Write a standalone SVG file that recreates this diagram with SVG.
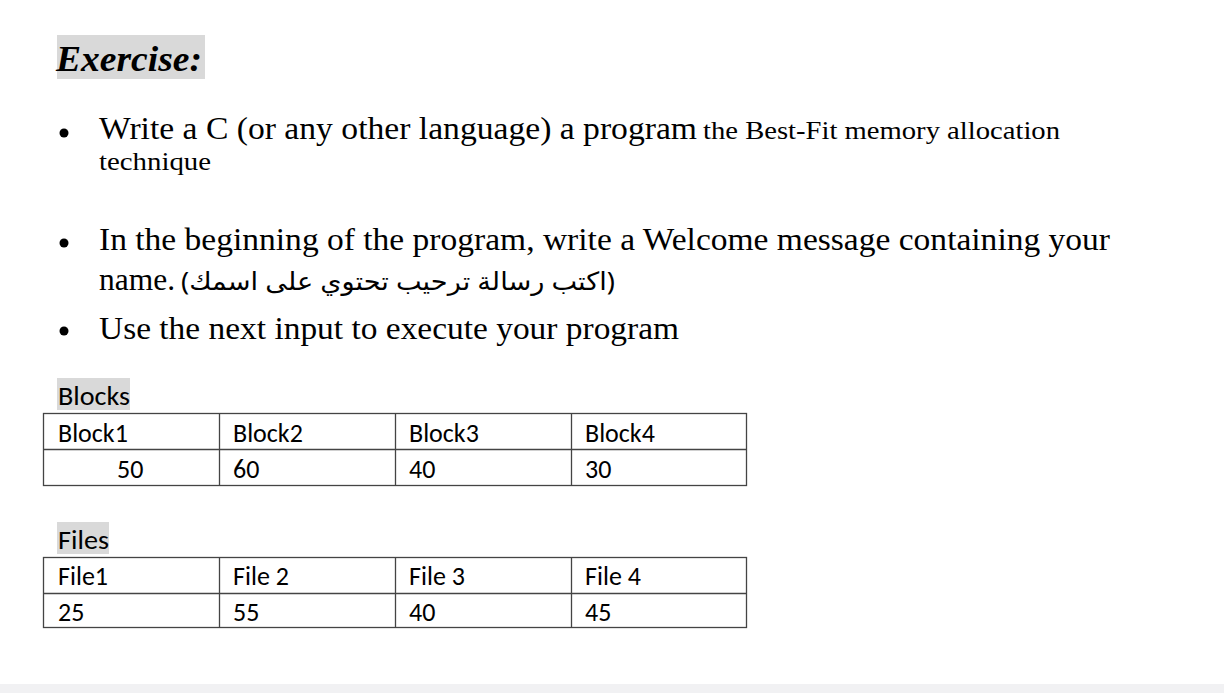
<svg xmlns="http://www.w3.org/2000/svg" width="1224" height="693" viewBox="0 0 1224 693">
<style>
.s{font-family:"Liberation Serif",serif;fill:#000}
.c{font-family:Carlito,"Liberation Sans",sans-serif;font-size:26px;fill:#000}
.hl{fill:#d9d9d9}
.t{fill:none;stroke:#444;stroke-width:1.3}
</style>
<rect width="1224" height="693" fill="#fff"/>
<rect x="0" y="684" width="1224" height="9" fill="#f1f1f3"/>
<rect class="hl" x="57" y="35" width="148" height="44"/>
<text class="s" x="56" y="71" font-size="36" font-weight="bold" font-style="italic" textLength="146" lengthAdjust="spacingAndGlyphs">Exercise:</text>
<g fill="#000"><circle cx="64" cy="133" r="4.5"/><circle cx="64" cy="243" r="4.5"/><circle cx="64" cy="331" r="4.5"/></g>
<text class="s" x="99" y="139" font-size="32" textLength="598" lengthAdjust="spacingAndGlyphs">Write a C (or any other language) a program</text>
<text class="s" x="703" y="139" font-size="26" textLength="357" lengthAdjust="spacingAndGlyphs">the Best-Fit memory allocation</text>
<text class="s" x="99" y="170" font-size="26" textLength="112" lengthAdjust="spacingAndGlyphs">technique</text>
<text class="s" x="99" y="250" font-size="32" textLength="1011" lengthAdjust="spacingAndGlyphs">In the beginning of the program, write a Welcome message containing your</text>
<text class="s" x="99" y="290" font-size="32" textLength="76" lengthAdjust="spacingAndGlyphs">name.</text>
<text x="181" y="290" font-family="'Noto Sans','DejaVu Sans',sans-serif" font-size="25" textLength="434" lengthAdjust="spacingAndGlyphs">(اكتب رسالة ترحيب تحتوي على اسمك)</text>
<text class="s" x="99" y="339" font-size="32" textLength="580" lengthAdjust="spacingAndGlyphs">Use the next input to execute your program</text>
<rect class="hl" x="57" y="378" width="73" height="32"/>
<text class="c" x="58" y="405" textLength="72" lengthAdjust="spacingAndGlyphs">Blocks</text>
<g id="blocks">
<rect class="t" x="43.5" y="413.5" width="703" height="72"/>
<path class="t" d="M43 449.5H747M219.5 413V486M395.5 413V486M571.5 413V486"/>
<text class="c" x="58" y="442">Block1</text><text class="c" x="233" y="442">Block2</text><text class="c" x="409" y="442">Block3</text><text class="c" x="585" y="442">Block4</text>
<text class="c" x="117" y="478">50</text><text class="c" x="233" y="478">60</text><text class="c" x="409" y="478">40</text><text class="c" x="585" y="478">30</text>
</g>
<rect class="hl" x="57" y="522" width="52" height="32"/>
<text class="c" x="58" y="549" textLength="51" lengthAdjust="spacingAndGlyphs">Files</text>
<g id="files">
<rect class="t" x="43.5" y="557.5" width="703" height="70"/>
<path class="t" d="M43 593.5H747M219.5 557V628M395.5 557V628M571.5 557V628"/>
<text class="c" x="58" y="585">File1</text><text class="c" x="233" y="585">File 2</text><text class="c" x="409" y="585">File 3</text><text class="c" x="585" y="585">File 4</text>
<text class="c" x="58" y="621">25</text><text class="c" x="233" y="621">55</text><text class="c" x="409" y="621">40</text><text class="c" x="585" y="621">45</text>
</g>
</svg>
